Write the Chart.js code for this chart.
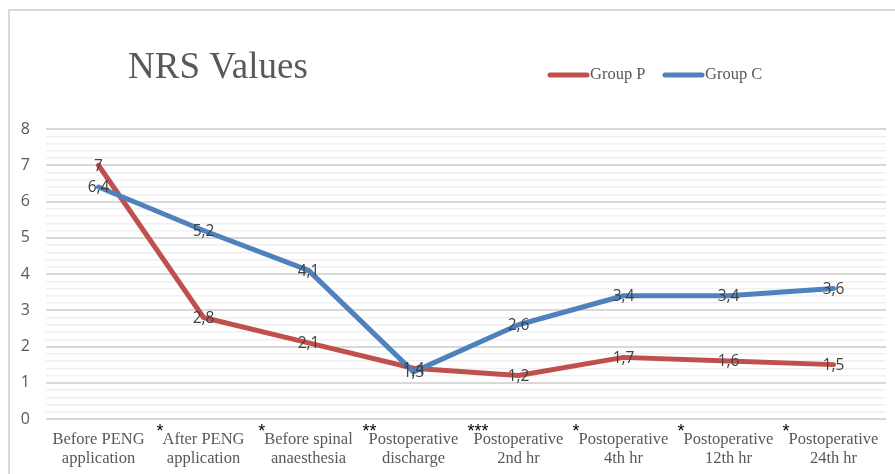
<!DOCTYPE html>
<html>
<head>
<meta charset="utf-8">
<script src="https://cdn.jsdelivr.net/npm/chart.js@4.4.0/dist/chart.umd.min.js"></script>
<style>
  html, body { margin: 0; padding: 0; background: #fff; }
  #wrap { width: 895px; height: 474px; position: relative; }
</style>
</head>
<body>
<div id="wrap"><canvas id="c" width="895" height="474"></canvas></div>
<script>
const categories = [
  ["Before PENG", "application"],
  ["After PENG", "application"],
  ["Before spinal", "anaesthesia"],
  ["Postoperative", "discharge"],
  ["Postoperative", "2nd hr"],
  ["Postoperative", "4th hr"],
  ["Postoperative", "12th hr"],
  ["Postoperative", "24th hr"]
];
const significance = ["", "*", "*", "**", "***", "*", "*", "*"];
const groupP = [7, 2.8, 2.1, 1.4, 1.2, 1.7, 1.6, 1.5];
const groupC = [6.4, 5.2, 4.1, 1.3, 2.6, 3.4, 3.4, 3.6];
const seriesNames = ["Group P", "Group C"];
const titleText = "NRS Values";

const RED = "#C0504D";
const BLUE = "#4F81BD";
const GRAY_TEXT = "#595959";
const XFONT = "16.5px 'Liberation Serif'";

const decoPlugin = {
  id: "deco",
  beforeDraw(chart) {
    const ctx = chart.ctx;
    ctx.save();
    ctx.strokeStyle = "#d9d9d9";
    ctx.lineWidth = 2;
    ctx.beginPath();
    ctx.moveTo(9, 474);
    ctx.lineTo(9, 10);
    ctx.lineTo(895, 10);
    ctx.stroke();
    ctx.restore();
  },
  afterDraw(chart) {
    const ctx = chart.ctx;
    ctx.save();
    // Title
    ctx.fillStyle = GRAY_TEXT;
    ctx.font = "37px 'Liberation Serif'";
    ctx.textAlign = "left";
    ctx.textBaseline = "alphabetic";
    ctx.fillText(titleText, 128, 78);
    // Legend
    const items = [
      { name: seriesNames[0], color: RED, x: 550 },
      { name: seriesNames[1], color: BLUE, x: 665 }
    ];
    ctx.font = XFONT;
    ctx.lineCap = "round";
    items.forEach(it => {
      ctx.strokeStyle = it.color;
      ctx.lineWidth = 5;
      ctx.beginPath();
      ctx.moveTo(it.x, 75);
      ctx.lineTo(it.x + 37, 75);
      ctx.stroke();
      ctx.fillStyle = GRAY_TEXT;
      ctx.textBaseline = "middle";
      ctx.fillText(it.name, it.x + 40, 75);
    });
    // Data labels
    ctx.font = "15.5px 'Open Sans'";
    ctx.fillStyle = "#404040";
    ctx.textAlign = "center";
    ctx.textBaseline = "middle";
    chart.data.datasets.forEach((ds, di) => {
      const meta = chart.getDatasetMeta(di);
      meta.data.forEach((pt, i) => {
        const txt = String(ds.data[i]).replace(".", ",");
        ctx.fillText(txt, pt.x, pt.y + 1);
      });
    });
    // Significance asterisks
    const xs = chart.scales.x;
    ctx.fillStyle = "#000";
    ctx.textAlign = "left";
    ctx.textBaseline = "alphabetic";
    significance.forEach((s, i) => {
      if (!s) return;
      const cx = xs.getPixelForValue(i);
      ctx.font = XFONT;
      const w = ctx.measureText(categories[i][0]).width;
      ctx.font = "18px 'Liberation Sans'";
      const start = cx - w / 2;
      ctx.fillText(s, start - 6, 437);
    });
    ctx.restore();
  }
};

new Chart(document.getElementById("c"), {
  type: "line",
  data: {
    labels: categories,
    datasets: [
      {
        label: seriesNames[0],
        data: groupP,
        borderColor: RED,
        backgroundColor: RED,
        borderWidth: 5,
        pointRadius: 0,
        pointHoverRadius: 0,
        tension: 0,
        borderCapStyle: "round",
        borderJoinStyle: "round",
        order: 2
      },
      {
        label: seriesNames[1],
        data: groupC,
        borderColor: BLUE,
        backgroundColor: BLUE,
        borderWidth: 5,
        pointRadius: 0,
        pointHoverRadius: 0,
        tension: 0,
        borderCapStyle: "round",
        borderJoinStyle: "round",
        order: 1
      }
    ]
  },
  options: {
    responsive: false,
    animation: false,
    events: [],
    layout: { padding: { top: 129, right: 9, left: 10, bottom: 0 } },
    plugins: {
      legend: { display: false },
      title: { display: false },
      tooltip: { enabled: false }
    },
    scales: {
      x: {
        offset: true,
        grid: { display: false, drawTicks: false },
        border: { display: false },
        ticks: {
          color: GRAY_TEXT,
          font: { family: "'Liberation Serif'", size: 16.5, lineHeight: 1.15 },
          padding: 11,
          maxRotation: 0,
          autoSkip: false
        },
        afterFit(scale) { scale.height = 55; }
      },
      y: {
        min: 0,
        max: 8,
        grid: {
          drawTicks: false,
          color(ctx) {
            const v = ctx.tick ? ctx.tick.value : 0;
            return Math.abs(v - Math.round(v)) < 1e-6 ? "#d9d9d9" : "#f0f0f0";
          },
          lineWidth(ctx) {
            const v = ctx.tick ? ctx.tick.value : 0;
            return Math.abs(v - Math.round(v)) < 1e-6 ? 2 : 1.5;
          }
        },
        border: { display: false },
        ticks: {
          stepSize: 0.2,
          autoSkip: false,
          padding: 16,
          color: GRAY_TEXT,
          font: { family: "'Open Sans'", size: 16 },
          callback(v) {
            return Math.abs(v - Math.round(v)) < 1e-6 ? String(Math.round(v)) : "";
          }
        },
        afterFit(scale) { scale.width = 36; }
      }
    }
  },
  plugins: [decoPlugin]
});
</script>
</body>
</html>
